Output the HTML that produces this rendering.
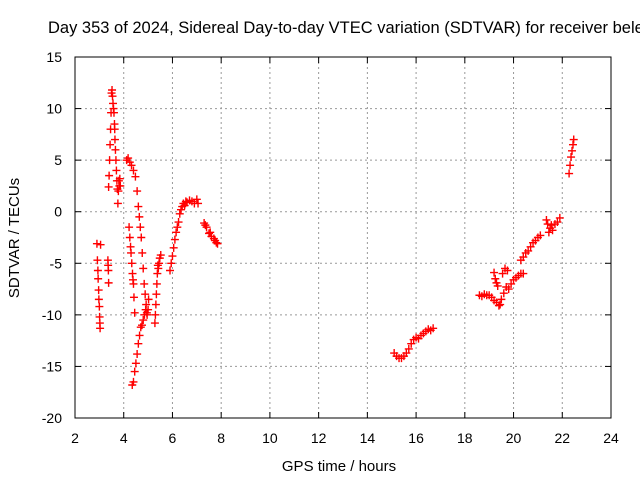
<!DOCTYPE html>
<html><head><meta charset="utf-8"><style>
body{margin:0;background:#fff}
svg{display:block;font-family:"Liberation Sans",sans-serif}
</style></head><body>
<svg id="chart" width="640" height="480">
<rect width="640" height="480" fill="#fff"/>
<text x="48" y="33" font-size="16.5" fill="#000">Day 353 of 2024, Sidereal Day-to-day VTEC variation (SDTVAR) for receiver bele</text>
<g id="grid"></g><g id="ticks"></g><g id="marks"></g>
<rect x="75" y="57" width="536" height="361" fill="none" stroke="#000" stroke-width="1"/>
<text x="339" y="471" font-size="15" text-anchor="middle">GPS time / hours</text>
<text transform="translate(19,238) rotate(-90)" font-size="15" text-anchor="middle">SDTVAR / TECUs</text>
</svg>
<script>
const xTicks=[2,4,6,8,10,12,14,16,18,20,22,24];
const yTicks=[15,10,5,0,-5,-10,-15,-20];
const seriesTimes=[
2.9,2.92,2.94,2.95,2.97,2.98,3.0,3.01,3.02,3.03,3.05,
3.35,3.36,3.37,3.38,
3.38,3.4,3.42,3.44,3.46,3.48,3.5,3.52,3.54,3.56,3.58,3.6,3.62,3.63,3.64,3.66,3.68,3.7,3.72,3.74,3.76,3.78,3.8,3.82,3.84,3.86,
4.12,4.18,4.25,4.32,4.4,4.48,4.55,4.6,4.64,4.68,4.72,4.76,4.8,4.84,4.88,4.92,4.96,5.0,5.02,
4.22,4.25,4.28,4.3,4.33,4.36,4.38,4.4,4.42,4.45,
4.35,4.4,4.45,4.5,4.55,4.6,4.65,4.7,4.75,4.8,4.85,4.9,4.95,
5.28,5.3,5.32,5.34,5.36,5.38,5.4,5.42,5.45,5.48,5.52,
5.9,5.95,6.0,6.05,6.1,6.15,6.2,6.25,6.3,6.35,6.4,6.45,6.5,6.55,6.6,6.7,6.8,6.9,7.0,7.05,
7.3,7.35,7.4,7.5,7.55,7.6,7.7,7.75,7.8,7.85,
15.1,15.2,15.3,15.4,15.5,15.6,15.7,15.8,15.9,16.0,16.1,16.2,16.3,16.4,16.5,16.6,16.7,
18.6,18.7,18.8,18.9,19.0,19.1,19.2,19.3,19.4,19.45,19.5,19.6,19.7,19.8,19.9,20.0,20.1,20.2,20.3,20.4,
19.2,19.25,19.3,19.35,19.55,19.65,19.75,
20.3,20.4,20.5,20.6,20.7,20.8,20.9,21.0,21.1,
21.35,21.4,21.45,21.5,21.55,21.6,21.7,21.8,21.9,
22.28,22.32,22.36,22.4,22.44,22.47];
const seriesValues=[
-3.1,-4.7,-5.7,-6.5,-7.6,-8.5,-9.2,-10.2,-10.8,-11.3,-3.2,
-4.7,-5.2,-5.7,-6.9,
2.4,3.5,5,6.5,8,9.6,11.5,11.8,11.2,10.5,10,9.6,8.5,8,7,6,5,4,3,2.2,0.8,2,3,2.5,3.2,2.5,
5,5.2,4.8,4.5,4,3.4,2,0.5,-0.5,-1.5,-2.5,-4,-5.5,-7,-8,-9,-10,-9.5,-8.5,
-1.5,-2.5,-3.4,-4,-5,-6,-6.6,-7,-8.3,-9.8,
-16.8,-16.5,-15.5,-14.7,-13.8,-12.8,-12,-11.2,-11.0,-10.5,-10.0,-9.5,-9.8,
-10.8,-10,-9,-8,-7,-6,-5.2,-5.5,-5,-4.5,-4.2,
-5.7,-5,-4.3,-3.5,-2.7,-2,-1.5,-1,-0.2,0.2,0.5,0.8,0.6,1,0.9,1.1,1,0.8,1.2,0.8,
-1.1,-1.3,-1.5,-2.1,-2,-2.4,-2.6,-2.8,-3,-3.1,
-13.7,-14,-14.2,-14.2,-14,-13.7,-13.3,-12.8,-12.4,-12.2,-12.3,-12,-11.8,-11.6,-11.4,-11.5,-11.3,
-8.1,-8.2,-8,-8.1,-8.1,-8.3,-8.6,-8.8,-9.1,-9,-8.5,-7.9,-7.3,-7.5,-7,-6.6,-6.4,-6.2,-6,-6,
-5.9,-6.5,-6.9,-7.2,-6,-5.5,-5.7,
-4.7,-4.4,-4,-3.8,-3.4,-3,-2.8,-2.5,-2.3,
-0.8,-1.2,-2,-1.6,-1.3,-1.8,-1.2,-1,-0.6,
3.7,4.5,5.3,5.9,6.5,7];
const X0=75,X1=611,Y0=418,Y1=57;
const xs=t=>X0+(t-2)/(24-2)*(X1-X0);
const ys=v=>Y0-(v+20)/(15+20)*(Y0-Y1);
const NS="http://www.w3.org/2000/svg";
const grid=document.getElementById('grid'),ticks=document.getElementById('ticks'),marks=document.getElementById('marks');
function mk(tag,attrs,parent){const e=document.createElementNS(NS,tag);for(const k in attrs)e.setAttribute(k,attrs[k]);parent.appendChild(e);return e;}
xTicks.forEach(t=>{const x=xs(t);
 if(t>2&&t<24){const g=mk('line',{x1:x,x2:x,y1:Y1,y2:Y0,stroke:'#999','stroke-dasharray':'2,3'},grid);
 
 }
 mk('line',{x1:x,x2:x,y1:Y0,y2:Y0-6,stroke:'#000'},ticks);mk('line',{x1:x,x2:x,y1:Y1,y2:Y1+6,stroke:'#000'},ticks);
 const l=mk('text',{x:x,y:443,'font-size':14,'text-anchor':'middle'},ticks);l.textContent=t;
 
 });
yTicks.forEach(v=>{const y=ys(v);
 if(v<15&&v>-20){const g=mk('line',{x1:X0,x2:X1,y1:y,y2:y,stroke:'#999','stroke-dasharray':'2,3'},grid);
 
 }
 mk('line',{x1:X0,x2:X0+6,y1:y,y2:y,stroke:'#000'},ticks);mk('line',{x1:X1,x2:X1-6,y1:y,y2:y,stroke:'#000'},ticks);
 const l=mk('text',{x:62,y:y+5,'font-size':14,'text-anchor':'end'},ticks);l.textContent=v;
 
 });
seriesTimes.forEach((t,i)=>{const x=xs(t),y=ys(seriesValues[i]);
 const p=mk('path',{d:`M${x-4},${y}H${x+4}M${x},${y-4}V${y+4}`,stroke:'#f00','stroke-width':1.4,fill:'none'},marks);
 
 });
</script>
</body></html>
